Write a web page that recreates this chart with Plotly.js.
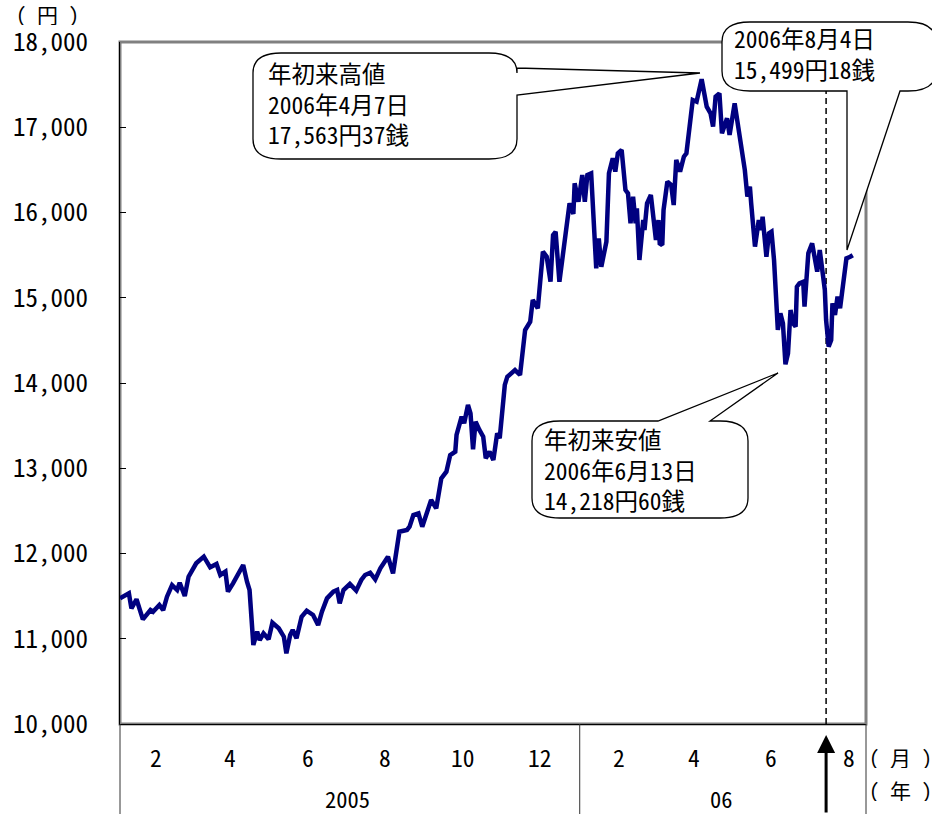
<!DOCTYPE html>
<html><head><meta charset="utf-8">
<script src="https://cdn.plot.ly/plotly-3.0.1.min.js"></script>
<style>body{margin:0;background:#fff}</style>
</head><body><div id="chart" style="width:932px;height:814px"></div>
<script>
// ---- data (Nikkei 225, yen) ----
const dates2005 = ['2005-01-04','2005-01-11','2005-01-13','2005-01-17','2005-01-22','2005-01-28','2005-01-30','2005-02-04','2005-02-07','2005-02-10','2005-02-14','2005-02-18','2005-02-20','2005-02-24','2005-02-27','2005-03-05','2005-03-11','2005-03-16','2005-03-21','2005-03-24','2005-03-28','2005-03-30','2005-04-03','2005-04-07','2005-04-11','2005-04-14','2005-04-16','2005-04-19','2005-04-22','2005-04-24','2005-04-27','2005-05-01','2005-05-04','2005-05-09','2005-05-13','2005-05-15','2005-05-18','2005-05-20','2005-05-23','2005-05-27','2005-05-31','2005-06-05','2005-06-09','2005-06-12','2005-06-16','2005-06-21','2005-06-24','2005-06-26','2005-06-29','2005-07-04','2005-07-09','2005-07-13','2005-07-16','2005-07-20','2005-07-24','2005-07-28','2005-08-03','2005-08-07','2005-08-12','2005-08-18','2005-08-20','2005-08-23','2005-08-27','2005-08-30','2005-09-02','2005-09-06','2005-09-10','2005-09-14','2005-09-18','2005-09-21','2005-09-25','2005-09-26','2005-09-30','2005-10-02','2005-10-05','2005-10-07','2005-10-09','2005-10-11','2005-10-14','2005-10-17','2005-10-19','2005-10-22','2005-10-25','2005-10-28','2005-10-30','2005-11-02','2005-11-03','2005-11-05','2005-11-11','2005-11-15','2005-11-19','2005-11-23','2005-11-25','2005-11-29','2005-12-03','2005-12-06','2005-12-09','2005-12-11','2005-12-13','2005-12-16','2005-12-20','2005-12-22','2005-12-24','2005-12-27','2005-12-28','2005-12-31'];
const values2005 = [11474,11533,11357,11463,11228,11337,11317,11396,11337,11493,11630,11572,11657,11501,11728,11885,11963,11838,11877,11748,11787,11552,11650,11767,11865,11669,11572,10927,11083,10985,11064,10994,11188,11123,11024,10829,11044,11103,11005,11259,11329,11279,11161,11317,11474,11552,11572,11416,11572,11642,11564,11689,11748,11775,11697,11826,11963,11767,12256,12276,12314,12452,12471,12314,12452,12628,12530,12882,12960,13155,13194,13390,13605,13527,13742,13644,13222,13546,13449,13370,13116,13194,13097,13410,13351,13800,13977,14074,14152,14094,14622,14719,14974,14876,15540,15481,15188,15736,15774,15188,15638,15932,16108,15983,16343,16127];
const dates2006 = ['2006-01-03','2006-01-05','2006-01-07','2006-01-10','2006-01-14','2006-01-16','2006-01-18','2006-01-22','2006-01-24','2006-01-27','2006-01-29','2006-01-31','2006-02-03','2006-02-06','2006-02-08','2006-02-10','2006-02-12','2006-02-14','2006-02-15','2006-02-17','2006-02-20','2006-02-21','2006-02-23','2006-02-26','2006-02-28','2006-03-02','2006-03-04','2006-03-05','2006-03-07','2006-03-08','2006-03-11','2006-03-14','2006-03-16','2006-03-18','2006-03-21','2006-03-24','2006-03-26','2006-03-29','2006-03-31','2006-04-03','2006-04-07','2006-04-11','2006-04-14','2006-04-16','2006-04-18','2006-04-21','2006-04-23','2006-04-27','2006-04-29','2006-05-03','2006-05-07','2006-05-11','2006-05-13','2006-05-15','2006-05-16','2006-05-19','2006-05-22','2006-05-24','2006-05-25','2006-05-28','2006-05-30','2006-06-01','2006-06-03','2006-06-06','2006-06-08','2006-06-10','2006-06-12','2006-06-14','2006-06-16','2006-06-18','2006-06-20','2006-06-21','2006-06-23','2006-06-26','2006-06-27','2006-06-29','2006-06-30','2006-07-03','2006-07-05','2006-07-07','2006-07-09','2006-07-10','2006-07-13','2006-07-14','2006-07-16','2006-07-18','2006-07-19','2006-07-21','2006-07-23','2006-07-25','2006-07-28','2006-07-30','2006-08-02','2006-08-04'];
const values2006 = [16440,16127,16440,16460,15345,15697,15364,15658,16460,16636,16479,16694,16733,16264,16225,15873,16186,15873,16049,15443,15912,15795,16108,16206,15951,15678,15912,15638,15619,16029,16362,16323,16088,16616,16479,16655,16694,17046,17320,17300,17563,17241,17163,17007,17359,17398,16929,17105,16909,17281,16889,16499,16186,16303,16108,15600,15912,15795,15951,15481,15756,15775,15443,14622,14818,14700,14219,14348,14856,14700,14661,15130,15169,15188,14895,15404,15521,15638,15443,15306,15560,15443,15091,14739,14427,14505,14935,14798,15013,14876,15286,15462,15481,15499];

const monthTicks = ['2005-02-01','2005-04-01','2005-06-01','2005-08-01','2005-10-01','2005-12-01','2006-02-01','2006-04-01','2006-06-01','2006-08-01'];
const monthLabels = ['2','4','6','8','10','12','2','4','6','8'];
const yearPos = ['2005-07-02','2006-04-23'];
const yearLabels = ['2005','06'];
const yTicks = [10000,11000,12000,13000,14000,15000,16000,17000,18000];
const policyDate = '2006-07-14';
const yearBoundary = '2006-01-01';
const highText = ['年初来高値','2006年4月7日','17,563円37銭'];
const lowText = ['年初来安値','2006年6月13日','14,218円60銭'];
const lastText = ['2006年8月4日','15,499円18銭'];
const unitY = '( 円 )', unitMonth = '( 月 )', unitYear = '( 年 )';

// ---- layout helpers ----
const L=120, R=866, T=42, B=724;
const px = x => (x-L)/(R-L);
const py = y => (B-y)/(B-T);
const FONT = '"Noto Sans Mono CJK JP", "Noto Sans CJK JP", "Liberation Sans", sans-serif';

function calloutPath(x0,y0,x1,y1,rx,ry,side,b1,b2,tx,ty){
  const P=(x,y)=>px(x).toFixed(5)+','+py(y).toFixed(5);
  let d='M'+P(x0+rx,y0);
  if(side==='top') d+=' L'+P(b1,y0)+' L'+P(tx,ty)+' L'+P(b2,y0);
  d+=' L'+P(x1-rx,y0)+' Q'+P(x1,y0)+' '+P(x1,y0+ry);
  if(side==='right') d+=' L'+P(x1,b1)+' L'+P(tx,ty)+' L'+P(x1,b2);
  d+=' L'+P(x1,y1-ry)+' Q'+P(x1,y1)+' '+P(x1-rx,y1);
  if(side==='bottom') d+=' L'+P(b2,y1)+' L'+P(tx,ty)+' L'+P(b1,y1);
  d+=' L'+P(x0+rx,y1)+' Q'+P(x0,y1)+' '+P(x0,y1-ry);
  d+=' L'+P(x0,y0+ry)+' Q'+P(x0,y0)+' '+P(x0+rx,y0)+' Z';
  return d;
}

const trace = {
  x: dates2005.concat(dates2006),
  y: values2005.concat(values2006),
  type: 'scatter', mode: 'lines',
  line: {color: '#000080', width: 4.5},
  hoverinfo: 'skip'
};

const shapes = [
  {type:'rect', xref:'paper', yref:'paper', x0:0, x1:1, y0:0, y1:1, line:{color:'#808080', width:3}, layer:'below'},
  {type:'line', xref:'x', yref:'paper', x0:policyDate, x1:policyDate, y0:0, y1:1, line:{color:'#000', width:1.5, dash:'6px,4px'}, layer:'below'},
  {type:'line', xref:'paper', yref:'paper', x0:0, x1:0, y0:0, y1:py(814), line:{color:'#333', width:1}},
  {type:'line', xref:'x', yref:'paper', x0:yearBoundary, x1:yearBoundary, y0:0, y1:py(814), line:{color:'#333', width:1}},
  {type:'line', xref:'paper', yref:'paper', x0:1, x1:1, y0:0, y1:py(814), line:{color:'#333', width:1}},
  {type:'path', xref:'paper', yref:'paper', path:calloutPath(253,53,517,159,28,20,'right',68,95,700,73), fillcolor:'#fff', line:{color:'#000', width:1.3}},
  {type:'path', xref:'paper', yref:'paper', path:calloutPath(532,421,748,518,28,20,'top',658,710,778,373), fillcolor:'#fff', line:{color:'#000', width:1.3}},
  {type:'path', xref:'paper', yref:'paper', path:calloutPath(722,22,936,91,28,20,'bottom',847,900,847,250), fillcolor:'#fff', line:{color:'#000', width:1.3}}
];

const ann = [];
const txtFont = {family: FONT, size: 23.5, color: '#000'};
monthTicks.forEach((d,i)=>ann.push({xref:'x', yref:'paper', x:d, y:py(757), text:monthLabels[i], showarrow:false, xanchor:'center', yanchor:'middle', height:24, font:txtFont}));
yearPos.forEach((d,i)=>ann.push({xref:'x', yref:'paper', x:d, y:py(798), text:yearLabels[i], showarrow:false, xanchor:'center', yanchor:'middle', height:24, font:{family:FONT, size:22.5, color:'#000'}}));
const unitFont = {family:FONT, size:21, color:'#000'};
ann.push({xref:'paper', yref:'paper', x:px(901), y:py(757), text:unitMonth, showarrow:false, xanchor:'center', yanchor:'middle', height:22, font:unitFont});
ann.push({xref:'paper', yref:'paper', x:px(901), y:py(790), text:unitYear, showarrow:false, xanchor:'center', yanchor:'middle', height:22, font:unitFont});
ann.push({xref:'paper', yref:'paper', x:px(47), y:py(14), text:unitY, showarrow:false, xanchor:'center', yanchor:'middle', height:22, font:{family:FONT, size:21, color:'#000'}});
const cFont = {family: FONT, size: 23.5, color: '#000'};
ann.push({xref:'paper', yref:'paper', x:px(266), y:py(103), text:highText.join('<br>'), showarrow:false, xanchor:'left', yanchor:'middle', align:'left', font:cFont});
ann.push({xref:'paper', yref:'paper', x:px(542), y:py(469), text:lowText.join('<br>'), showarrow:false, xanchor:'left', yanchor:'middle', align:'left', font:cFont});
ann.push({xref:'paper', yref:'paper', x:px(732), y:py(54), text:lastText.join('<br>'), showarrow:false, xanchor:'left', yanchor:'middle', align:'left', font:cFont});
ann.push({xref:'x', yref:'paper', x:policyDate, y:py(735), text:'', showarrow:true, ax:0, ay:80, arrowhead:2, arrowsize:1.2, arrowwidth:3, arrowcolor:'#000'});

const layout = {
  width: 932, height: 814,
  margin: {l:L, r:932-R, t:T, b:814-B, pad:0},
  paper_bgcolor:'#fff', plot_bgcolor:'#fff',
  showlegend:false,
  xaxis: {type:'date', range:['2005-01-04','2006-08-14 10:00'], showticklabels:false, ticks:'', showgrid:false, zeroline:false, showline:true, linecolor:'#000', linewidth:1},
  yaxis: {range:[10000,18000], tickvals:yTicks, tickformat:',', ticks:'inside', ticklen:6, tickcolor:'#000', showgrid:false, zeroline:false, showline:true, linecolor:'#000', linewidth:1, ticklabelstandoff:26, tickfont:{family:FONT, size:25, color:'#000'}},
  shapes: shapes,
  annotations: ann
};
Plotly.newPlot('chart', [trace], layout, {displayModeBar:false, staticPlot:true});
</script></body></html>
